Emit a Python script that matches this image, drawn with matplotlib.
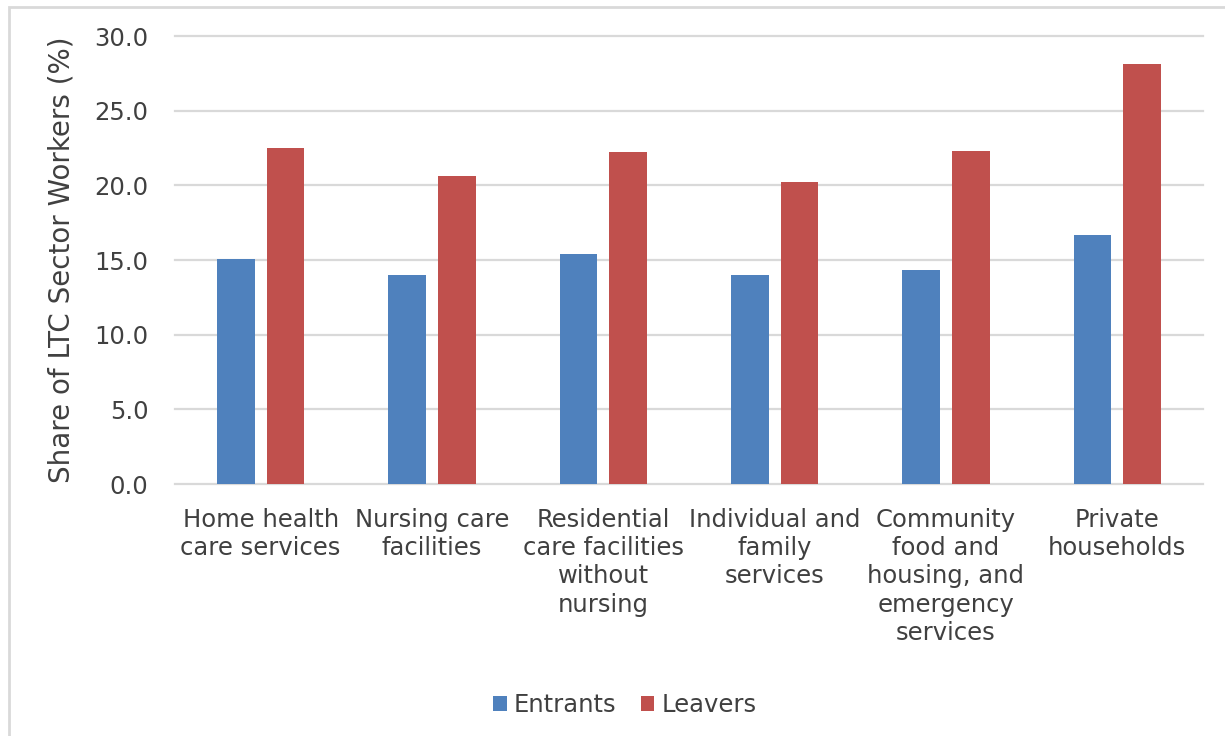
import matplotlib.pyplot as plt
import numpy as np
from matplotlib.patches import Rectangle

categories = ['Home health\ncare services', 'Nursing care\nfacilities',
              'Residential\ncare facilities\nwithout\nnursing',
              'Individual and\nfamily\nservices',
              'Community\nfood and\nhousing, and\nemergency\nservices',
              'Private\nhouseholds']
entrants = [15.1, 14.0, 15.4, 14.0, 14.3, 16.7]
leavers = [22.5, 20.6, 22.2, 20.2, 22.3, 28.1]
y_ticks = [0, 5, 10, 15, 20, 25, 30]

TEXT = '#404040'
GRID = '#d9d9d9'

plt.rcParams['font.family'] = ['DejaVu Sans']

fig = plt.figure(figsize=(12.25, 7.36), dpi=100)
ax = fig.add_axes([175 / 1225, 1 - 484 / 736, (1203 - 175) / 1225, 448 / 736])

x = np.arange(len(categories))
width = 0.22
ax.bar(x - 0.035 - width / 2, entrants, width, color='#4F81BD', label='Entrants', zorder=3)
ax.bar(x + 0.035 + width / 2, leavers, width, color='#C0504D', label='Leavers', zorder=3)

ax.set_xlim(-0.5, len(categories) - 0.5)
ax.set_ylim(0, 30)
ax.set_yticks(y_ticks)
ax.set_yticklabels(['%.1f' % v for v in y_ticks])
for v in y_ticks[1:]:
    ax.axhline(v, color=GRID, linewidth=1.6, zorder=0, clip_on=False)

ax.set_xticks(x)
ax.set_xticklabels(categories, linespacing=1.23)
ax.tick_params(axis='x', length=0, pad=17, labelsize=17.5, colors=TEXT)
ax.tick_params(axis='y', length=0, pad=19, labelsize=17.5, colors=TEXT)

for side in ['top', 'right', 'left']:
    ax.spines[side].set_visible(False)
ax.spines['bottom'].set_color(GRID)
ax.spines['bottom'].set_linewidth(1.6)

ax.set_ylabel('Share of LTC Sector Workers (%)', fontsize=20, color=TEXT, labelpad=14)

fig.legend(loc='center', bbox_to_anchor=(625 / 1225, 1 - 705 / 736), ncol=2,
           frameon=False, fontsize=17.5, handlelength=0.55, handleheight=0.55,
           handletextpad=0.3, columnspacing=1.0, labelcolor=TEXT)

fig.patches.append(Rectangle((9 / 1225, -0.1), 1.2, 1.1 - 7 / 736, transform=fig.transFigure,
                             fill=False, edgecolor='#d9d9d9', linewidth=2))

fig.savefig('out.png', dpi=100, facecolor='white')
